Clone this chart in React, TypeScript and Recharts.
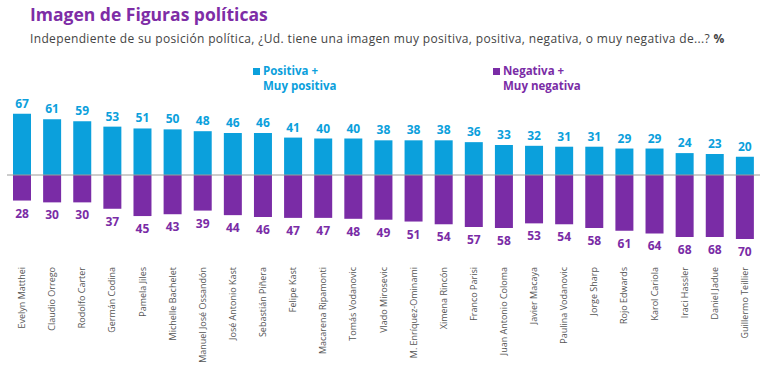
import React from "react";
import { BarChart, Bar, XAxis, YAxis, ReferenceLine, LabelList } from "recharts";

const FIGURAS = [
  "Evelyn Matthei",
  "Claudio Orrego",
  "Rodolfo Carter",
  "Germán Codina",
  "Pamela Jiles",
  "Michelle Bachelet",
  "Manuel José Ossandón",
  "José Antonio Kast",
  "Sebastián Piñera",
  "Felipe Kast",
  "Macarena Ripamonti",
  "Tomás Vodanovic",
  "Vlado Mirosevic",
  "M. Enríquez-Ominami",
  "Ximena Rincón",
  "Franco Parisi",
  "Juan Antonio Coloma",
  "Javier Macaya",
  "Paulina Vodanovic",
  "Jorge Sharp",
  "Rojo Edwards",
  "Karol Cariola",
  "Iraci Hassler",
  "Daniel Jadue",
  "Guillermo Teillier",
];

const POSITIVA = [67, 61, 59, 53, 51, 50, 48, 46, 46, 41, 40, 40, 38, 38, 38, 36, 33, 32, 31, 31, 29, 29, 24, 23, 20];
const NEGATIVA = [28, 30, 30, 37, 45, 43, 39, 44, 46, 47, 47, 48, 49, 51, 54, 57, 58, 53, 54, 58, 61, 64, 68, 68, 70];

const BLUE = "#0ba0dc";
const PURPLE = "#7a2ca6";
const FONT = "'Open Sans', sans-serif";

const data = FIGURAS.map((name, i) => ({
  name,
  pos: POSITIVA[i],
  neg: -NEGATIVA[i],
}));

function NameTick(props: any) {
  const { x, y, payload } = props;
  return (
    <g transform={`translate(${x},${y})`}>
      <text
        transform="rotate(-90)"
        x={0}
        y={0}
        dy={3}
        dx={-11}
        textAnchor="end"
        fill="#555"
        fontSize={9}
        fontFamily={FONT}
      >
        {payload.value}
      </text>
    </g>
  );
}

function PosLabel(props: any) {
  const { x, y, width, value } = props;
  return (
    <text x={x + width / 2} y={y - 6} textAnchor="middle" fill={BLUE} fontSize={12} fontWeight={700} fontFamily={FONT}>
      {value}
    </text>
  );
}

function NegLabel(props: any) {
  const { x, y, width, height, value } = props;
  const bottom = Math.max(y, y + height);
  return (
    <text x={x + width / 2} y={bottom + 17} textAnchor="middle" fill={PURPLE} fontSize={12} fontWeight={700} fontFamily={FONT}>
      {Math.abs(value)}
    </text>
  );
}

function LegendBox() {
  const item = (color: string, l1: string, l2: string, left: number) => (
    <div style={{ position: "absolute", left, top: 0, color, fontFamily: FONT, fontWeight: 700, fontSize: 11.5, lineHeight: "15px", whiteSpace: "nowrap" }}>
      <div>
        <span style={{ display: "inline-block", width: 7, height: 7, background: color, marginRight: 3 }} />
        {l1}
      </div>
      <div style={{ paddingLeft: 10 }}>{l2}</div>
    </div>
  );
  return (
    <div style={{ position: "absolute", left: 253, top: 63, width: 420, height: 32 }}>
      {item(BLUE, "Positiva +", "Muy positiva", 0)}
      {item(PURPLE, "Negativa +", "Muy negativa", 240)}
    </div>
  );
}

export default function App() {
  return (
    <div style={{ position: "absolute", left: 0, top: 0, width: 762, height: 373, background: "#fff", overflow: "hidden" }}>
      <div style={{ position: "absolute", left: 30, top: 2, fontFamily: FONT, fontWeight: 700, fontSize: 17.5, color: "#7e2da6" }}>
        Imagen de Figuras políticas
      </div>
      <div style={{ position: "absolute", left: 30, top: 30, fontFamily: FONT, fontSize: 12, letterSpacing: 0.35, color: "#444", whiteSpace: "nowrap" }}>
        Independiente de su posición política, ¿Ud. tiene una imagen muy positiva, positiva, negativa, o muy negativa de...? <b>%</b>
      </div>
      <LegendBox />
      <div style={{ position: "absolute", left: 0, top: 0 }}>
        <BarChart
          width={762}
          height={373}
          data={data}
          stackOffset="sign"
          margin={{ top: 102, right: 2, left: 7, bottom: 5 }}
        >
          <YAxis hide domain={[-80, 80]} />
          <XAxis dataKey="name" height={120} axisLine={false} tickLine={false} interval={0} tick={<NameTick />} />
          <Bar dataKey="pos" stackId="a" fill={BLUE} barSize={18} isAnimationActive={false}>
            <LabelList dataKey="pos" content={<PosLabel />} />
          </Bar>
          <Bar dataKey="neg" stackId="a" fill={PURPLE} barSize={18} isAnimationActive={false}>
            <LabelList dataKey="neg" content={<NegLabel />} />
          </Bar>
          <ReferenceLine y={0} stroke="#9a9a9a" strokeWidth={1} />
        </BarChart>
      </div>
    </div>
  );
}
